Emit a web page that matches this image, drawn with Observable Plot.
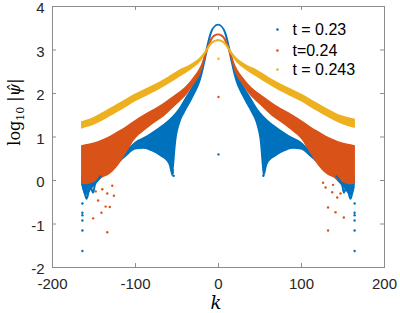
<!DOCTYPE html>
<html><head><meta charset="utf-8">
<script src="https://cdn.jsdelivr.net/npm/d3@7"></script>
<script src="https://cdn.jsdelivr.net/npm/@observablehq/plot@0.6"></script>
<style>
body{margin:0;background:#fff}
#wrap{position:relative;width:400px;height:313px;font-family:"Liberation Sans",Arial,sans-serif}
#ylab{position:absolute;left:16px;top:112px;transform:translate(-50%,-50%) rotate(-90deg);font-family:"DejaVu Serif","Liberation Serif",serif;font-size:16px;white-space:nowrap;color:#000}
#xlab{position:absolute;left:216px;top:302px;transform:translate(-50%,-50%);font-family:"DejaVu Serif","Liberation Serif",serif;font-style:italic;font-size:18px;color:#000}
</style></head>
<body><div id="wrap"><div id="ylab">log<sub style="font-size:11px">10</sub> |<i>ψ̂</i>|</div><div id="xlab">k</div></div>
<script>
const seriesNames = ["t = 0.23", "t=0.24", "t = 0.243"];
const colors = ["#0072BD", "#D95319", "#EDB120"];
const xTicks = [-200, -100, 0, 100, 200];
const yTicks = [-2, -1, 0, 1, 2, 3, 4];

const K = [-165,-160,-150,-140,-130,-120,-110,-100,-90,-80,-70,-60,-55,-50,-45,-40,-30,-20,-15,-10,-5,0,5,10,15,20,30,40,45,50,55,60,70,80,90,100,110,120,130,140,150,160,165];

const yellowTop = [1.35,1.38,1.45,1.55,1.66,1.77,1.88,1.99,2.08,2.17,2.27,2.38,2.44,2.5,2.56,2.6,2.7,2.86,3.0,3.14,3.21,3.24,3.21,3.14,3.0,2.86,2.7,2.6,2.56,2.5,2.44,2.38,2.27,2.17,2.08,1.99,1.88,1.77,1.66,1.56,1.48,1.43,1.41];
const yellowBottom = [1.18,1.21,1.27,1.36,1.47,1.58,1.69,1.81,1.9,2.0,2.1,2.21,2.27,2.33,2.39,2.45,2.58,2.76,2.9,3.06,3.16,3.19,3.16,3.06,2.9,2.76,2.58,2.45,2.39,2.33,2.27,2.21,2.1,2.0,1.9,1.81,1.69,1.58,1.47,1.37,1.28,1.22,1.2];

const orangeTop = [0.8,0.82,0.86,0.93,1.02,1.13,1.25,1.38,1.5,1.61,1.72,1.85,1.92,1.99,2.06,2.14,2.36,2.68,2.96,3.22,3.34,3.37,3.34,3.22,2.96,2.68,2.36,2.14,2.06,1.99,1.92,1.85,1.72,1.61,1.5,1.38,1.25,1.13,1.02,0.93,0.86,0.82,0.8];
const orangeBottom = [-0.08,-0.1,-0.05,0.05,0.15,0.35,0.65,0.95,1.12,1.27,1.4,1.56,1.65,1.74,1.83,1.92,2.18,2.5,2.82,3.1,3.28,3.33,3.28,3.1,2.82,2.5,2.18,1.92,1.83,1.74,1.65,1.56,1.4,1.27,1.12,0.95,0.65,0.35,0.15,0.05,-0.05,-0.1,-0.08];

const blueTop = [0.1,0.12,0.2,0.28,0.38,0.52,0.7,0.88,0.98,1.1,1.23,1.38,1.47,1.58,1.72,1.88,2.2,2.62,3.0,3.38,3.54,3.59,3.54,3.38,3.0,2.62,2.2,1.88,1.72,1.58,1.47,1.38,1.23,1.1,0.98,0.88,0.7,0.52,0.38,0.28,0.2,0.12,0.1];
const blueBottom = [-0.1,-0.35,-0.15,0.05,0.2,0.38,0.55,0.7,0.72,0.66,0.55,0.38,0.08,0.95,1.35,1.55,1.9,2.35,2.75,3.2,3.48,3.55,3.48,3.2,2.75,2.35,1.9,1.55,1.35,0.95,0.08,0.38,0.55,0.66,0.72,0.7,0.55,0.38,0.2,0.05,-0.15,-0.35,-0.1];

// blue dips at the far ends (drawn on top of orange)
const blueDipLeftK = [-163,-161,-159,-157,-155,-153,-151,-149,-146,-142];
const blueDipLeftV = [-0.15,-0.3,-0.42,-0.3,-0.1,-0.2,-0.28,-0.1,0.0,0.1];
const blueDipRightK = [142,146,149,151,153,155,157,159,161,163];
const blueDipRightV = [0.1,0.0,-0.1,-0.28,-0.2,-0.1,-0.3,-0.42,-0.3,-0.15];

// isolated points
const blueDotK = [-164,-164,-164,-164,-164,-164,164,164,164,164,164,164,-55,-55,-54,55,55,54,0];
const blueDotV = [-0.53,-0.74,-0.8,-0.92,-1.15,-1.62,-0.53,-0.74,-0.8,-0.92,-1.15,-1.62,0.23,0.18,0.11,0.23,0.18,0.11,0.6];
const orangeDotK = [-151,-141,-136,-131,-145,-134,-126,-134,-140,-128,-148,151,141,137,132,143,129,132,138,126,147,0];
const orangeDotV = [-0.87,-0.74,-0.6,-0.61,-0.46,-0.3,-0.35,-1.19,-0.2,-0.12,-0.25,-0.85,-0.73,-0.27,-0.62,-0.39,-0.16,-1.15,-0.1,-0.05,-0.3,1.92];
const yellowDotK = [0];
const yellowDotV = [2.8];

const band = (top, bot) => K.map((k, i) => ({k, top: top[i], bot: bot[i]}));
const pts = (ks, vs) => ks.map((k, i) => ({k, v: vs[i]}));
const legendY = [3.47, 2.99, 2.55];
const legend = seriesNames.map((name, i) => ({name, y: legendY[i], c: colors[i]}));

const plot = Plot.plot({
  width: 400, height: 313,
  marginLeft: 52, marginRight: 16, marginTop: 6, marginBottom: 46,
  style: {fontFamily: '"Liberation Sans", Arial, sans-serif', fontSize: "15px", color: "#262626", background: "#fff", overflow: "visible"},
  x: {domain: [-200, 200]},
  y: {domain: [-2, 4]},
  marks: [
    Plot.areaY(band(blueTop, blueBottom), {x: "k", y1: "bot", y2: "top", fill: colors[0], curve: "monotone-x"}),
    Plot.areaY(band(orangeTop, orangeBottom), {x: "k", y1: "bot", y2: "top", fill: colors[1], curve: "monotone-x"}),
    Plot.line(pts(blueDipLeftK, blueDipLeftV), {x: "k", y: "v", stroke: colors[0], strokeWidth: 2, curve: "monotone-x"}),
    Plot.line(pts(blueDipRightK, blueDipRightV), {x: "k", y: "v", stroke: colors[0], strokeWidth: 2, curve: "monotone-x"}),
    Plot.areaY(band(yellowTop, yellowBottom), {x: "k", y1: "bot", y2: "top", fill: colors[2], curve: "monotone-x"}),
    Plot.dot(pts(blueDotK, blueDotV), {x: "k", y: "v", r: 1.2, fill: colors[0]}),
    Plot.dot(pts(orangeDotK, orangeDotV), {x: "k", y: "v", r: 1.2, fill: colors[1]}),
    Plot.dot(pts(yellowDotK, yellowDotV), {x: "k", y: "v", r: 1.2, fill: colors[2]}),
    Plot.frame({stroke: "#8c8c8c"}),
    Plot.ruleX(xTicks, {x: d => d, y1: -2, y2: -1.91, stroke: "#8c8c8c"}),
    Plot.ruleX(xTicks, {x: d => d, y1: 4, y2: 3.91, stroke: "#8c8c8c"}),
    Plot.ruleY(yTicks, {y: d => d, x1: -200, x2: -195.2, stroke: "#8c8c8c"}),
    Plot.ruleY(yTicks, {y: d => d, x1: 200, x2: 195.2, stroke: "#8c8c8c"}),
    Plot.axisX({ticks: xTicks, tickFormat: d => String(d), tickSize: 0, tickPadding: 11, label: null, fill: "#262626"}),
    Plot.axisY({ticks: yTicks, tickFormat: d => String(d), tickSize: 0, tickPadding: 8, dy: 2, label: null, fill: "#262626"}),
    Plot.dot(legend, {x: 71, y: "y", r: 1.3, fill: "c"}),
    Plot.text(legend, {x: 71, y: "y", text: "name", dx: 15, textAnchor: "start", fontSize: 16, fill: "#000"})
  ]
});
document.getElementById("wrap").prepend(plot);
plot.style.position = "absolute"; plot.style.left = "0"; plot.style.top = "0";
</script>
</body></html>
